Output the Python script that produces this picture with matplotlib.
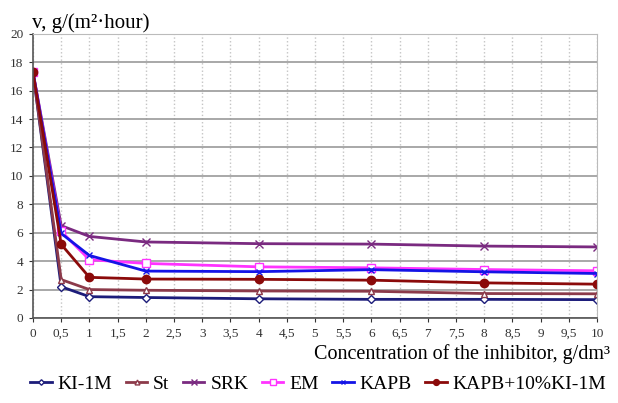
import numpy as np
import matplotlib
matplotlib.use("Agg")
import matplotlib.pyplot as plt

plt.rcParams['font.family'] = ['Liberation Serif', 'DejaVu Serif']

# concentration of the inhibitor, g/dm3
conc = [0, 0.5, 1, 2, 4, 6, 8, 10]

ki1m = [17.3, 2.2, 1.5, 1.44, 1.35, 1.31, 1.31, 1.29]
st = [17.3, 2.7, 2.0, 1.95, 1.9, 1.88, 1.72, 1.7]
srk = [17.3, 6.5, 5.74, 5.35, 5.23, 5.2, 5.06, 5.0]
em = [17.3, 6.1, 4.1, 3.84, 3.6, 3.53, 3.41, 3.32]
kapb = [17.3, 5.95, 4.4, 3.3, 3.26, 3.4, 3.25, 3.13]
kapb_ki = [17.3, 5.18, 2.86, 2.74, 2.72, 2.66, 2.47, 2.38]

series = [
    ("KI-1M", ki1m, "#1c1c7a", "D", "white", 4),
    ("St", st, "#8c3a4a", "^", "white", 5),
    ("SRK", srk, "#7a2a80", "x", "#7a2a80", 6),
    ("EM", em, "#ff33ff", "s", "white", 6),
    ("KAPB", kapb, "#1414e6", "x", "#1414e6", 5),
    ("KAPB+10%KI-1M", kapb_ki, "#8b0a0a", "o", "#8b0a0a", 6),
]

fig = plt.figure(figsize=(6.18, 4.03), dpi=100)
ax = fig.add_axes([0.0534, 0.211, 0.9126, 0.705])

for name, vals, col, mk, fc, ms in series:
    ax.plot(conc, vals, color=col, lw=2, marker=mk, markerfacecolor=fc,
            markeredgecolor=col, markersize=ms, label=name)

ax.set_xlim(0, 10)
ax.set_ylim(0, 20)
ax.set_xticks(np.arange(0, 10.01, 0.5))
ax.set_xticklabels([("%g" % t).replace('.', ',') for t in np.arange(0, 10.01, 0.5)])
ax.set_yticks(np.arange(0, 21, 2))

ax.xaxis.grid(True, color='#c4c4c4', linestyle=':', lw=1)
ax.yaxis.grid(True, color='#999999', linestyle='-', lw=1.2)
ax.set_axisbelow(True)

for s in ['left', 'bottom']:
    ax.spines[s].set_color('#555555')
    ax.spines[s].set_linewidth(1.2)
for s in ['top', 'right']:
    ax.spines[s].set_color('#bbbbbb')

ax.tick_params(labelsize=9.5, colors='#333333', length=3, pad=4)

fig.text(0.052, 0.93, "v, g/(m²·hour)", fontsize=15, ha='left', va='baseline')
fig.text(0.987, 0.109, "Concentration of the inhibitor, g/dm³", fontsize=14.5,
         ha='right', va='baseline')

fig.legend(loc='lower center', bbox_to_anchor=(0.515, -0.018), ncol=6, frameon=False,
           fontsize=14, handlelength=1.1, handletextpad=0.3, columnspacing=0.7,
           markerscale=0.7)

fig.savefig("out.png", dpi=100)
